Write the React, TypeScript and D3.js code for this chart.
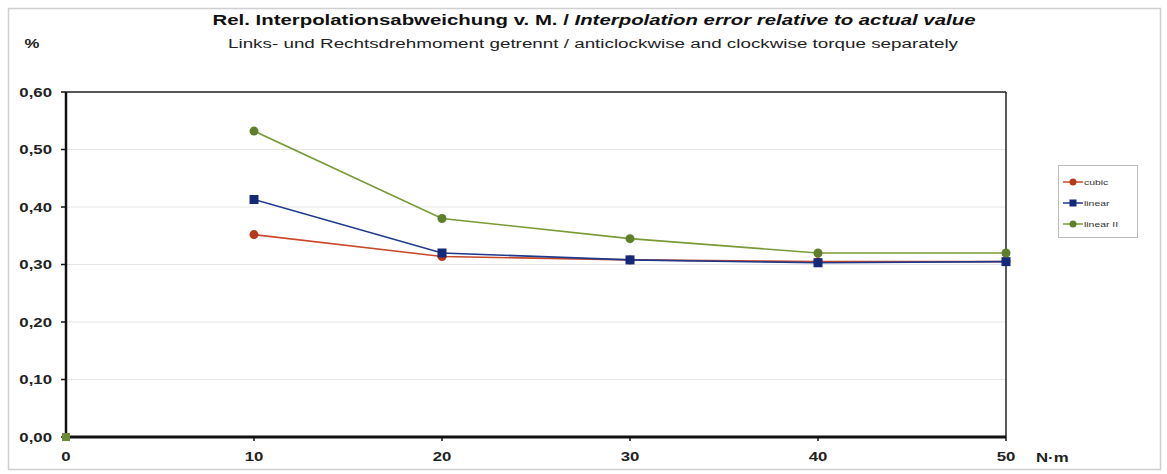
import React from "react";
import * as d3 from "d3";

const xValues = [0, 10, 20, 30, 40, 50];
const cubic = [0, 0.352, 0.314, 0.308, 0.305, 0.305];
const linear = [0, 0.413, 0.320, 0.308, 0.303, 0.305];
const linearII = [0, 0.532, 0.380, 0.345, 0.320, 0.320];
const yTicks = [0, 0.1, 0.2, 0.3, 0.4, 0.5, 0.6];
const xTicks = [0, 10, 20, 30, 40, 50];
const seriesNames = ["cubic", "linear", "linear II"];

const W = 1167;
const H = 474;
const SX = 1.4;

function ST(props: {
  x: number;
  y: number;
  anchor?: "start" | "middle" | "end";
  size: number;
  bold?: boolean;
  fill?: string;
  sx?: number;
  children: React.ReactNode;
}) {
  const sx = props.sx ?? SX;
  return (
    <text
      transform={`translate(${props.x},${props.y}) scale(${sx},1)`}
      textAnchor={props.anchor || "start"}
      fontSize={props.size}
      fontWeight={props.bold ? "bold" : "normal"}
      fill={props.fill || "#222"}
    >
      {props.children}
    </text>
  );
}

export default function App() {
  const x = d3.scaleLinear().domain([0, 50]).range([66, 1006]);
  const y = d3.scaleLinear().domain([0, 0.6]).range([437, 92]);
  const fmt = (v: number) => v.toFixed(2).replace(".", ",");

  const series = [
    { name: seriesNames[0], values: cubic, color: "#c8482a", marker: "circle" },
    { name: seriesNames[1], values: linear, color: "#1f3a8c", marker: "square" },
    { name: seriesNames[2], values: linearII, color: "#7a9a35", marker: "circle" },
  ];
  const markerFill: Record<string, string> = {
    cubic: "#b53a1c",
    linear: "#142a78",
    "linear II": "#5f7f2a",
  };

  const line = d3
    .line<[number, number]>()
    .x((d) => x(d[0]))
    .y((d) => y(d[1]));

  const font = "Liberation Sans, Arial, sans-serif";

  return (
    <svg
      width={W}
      height={H}
      style={{ position: "absolute", left: 0, top: 0, fontFamily: font }}
    >
      <rect x={0} y={0} width={W} height={H} fill="#fff" />
      <rect x={8.5} y={8.5} width={1152} height={461} fill="none" stroke="#cfcfcf" strokeWidth={1.5} />

      {/* Titles */}
      <text
        x={594}
        y={25}
        textAnchor="middle"
        fontSize={14}
        fontWeight="bold"
        fill="#111"
        textLength={763}
        lengthAdjust="spacingAndGlyphs"
      >
        Rel. Interpolationsabweichung v. M. /{" "}
        <tspan fontStyle="italic">Interpolation error relative to actual value</tspan>
      </text>
      <text
        x={593}
        y={48}
        textAnchor="middle"
        fontSize={12.5}
        fill="#222"
        textLength={730}
        lengthAdjust="spacingAndGlyphs"
      >
        Links- und Rechtsdrehmoment getrennt / anticlockwise and clockwise torque separately
      </text>
      <ST x={32} y={48} anchor="middle" size={12} bold>
        %
      </ST>

      {/* gridlines */}
      {yTicks.map((t) => (
        <line key={"g" + t} x1={x(0)} x2={x(50)} y1={y(t)} y2={y(t)} stroke="#e6e6e6" strokeWidth={1} />
      ))}

      {/* plot border */}
      <line x1={x(0)} x2={x(50)} y1={y(0.6)} y2={y(0.6)} stroke="#222" strokeWidth={1.5} />
      <line x1={x(50)} x2={x(50)} y1={y(0.6)} y2={y(0)} stroke="#222" strokeWidth={1.5} />

      {/* y axis */}
      <line x1={x(0)} x2={x(0)} y1={y(0.6)} y2={y(0)} stroke="#111" strokeWidth={2.5} />
      {yTicks.map((t) => (
        <g key={"y" + t}>
          <line x1={x(0) - 5} x2={x(0)} y1={y(t)} y2={y(t)} stroke="#111" strokeWidth={1.5} />
          <ST x={52} y={y(t) + 4.5} anchor="end" size={12} bold>
            {fmt(t)}
          </ST>
        </g>
      ))}

      {/* x axis */}
      <line x1={x(0)} x2={x(50)} y1={y(0)} y2={y(0)} stroke="#111" strokeWidth={3} />
      {xTicks.map((t) => (
        <g key={"x" + t}>
          <line x1={x(t)} x2={x(t)} y1={y(0)} y2={y(0) + 4} stroke="#111" strokeWidth={1.5} />
          <ST x={x(t)} y={461} anchor="middle" size={12} bold>
            {t}
          </ST>
        </g>
      ))}
      <ST x={1036} y={462} size={12} bold>
        N·m
      </ST>

      {/* series */}
      {series.map((s) => {
        const pts: [number, number][] = xValues
          .map((xv, i) => [xv, s.values[i]] as [number, number])
          .filter((p) => p[0] > 0);
        return (
          <g key={s.name}>
            <path d={line(pts) || ""} fill="none" stroke={s.color} strokeWidth={1.6} />
            {pts.map((p, i) =>
              s.marker === "square" ? (
                <rect
                  key={i}
                  x={x(p[0]) - 4.5}
                  y={y(p[1]) - 4.5}
                  width={9}
                  height={9}
                  fill={markerFill[s.name]}
                />
              ) : (
                <circle key={i} cx={x(p[0])} cy={y(p[1])} r={4.5} fill={markerFill[s.name]} />
              )
            )}
          </g>
        );
      })}
      {/* zero point marker */}
      <rect x={x(0) - 4} y={y(0) - 4} width={8} height={8} fill="#6b8a3a" />

      {/* legend */}
      <rect x={1058.5} y={165.5} width={79} height={72} fill="#fff" stroke="#bbb" strokeWidth={1} />
      {series.map((s, i) => {
        const ly = 182 + i * 21;
        return (
          <g key={"l" + s.name}>
            <line x1={1063} x2={1083} y1={ly} y2={ly} stroke={s.color} strokeWidth={1.5} />
            {s.marker === "square" ? (
              <rect x={1069.5} y={ly - 3.5} width={7} height={7} fill={markerFill[s.name]} />
            ) : (
              <circle cx={1073} cy={ly} r={3.5} fill={markerFill[s.name]} />
            )}
            <ST x={1084} y={ly + 3} size={8} fill="#333" sx={1.3}>
              {s.name}
            </ST>
          </g>
        );
      })}
    </svg>
  );
}
